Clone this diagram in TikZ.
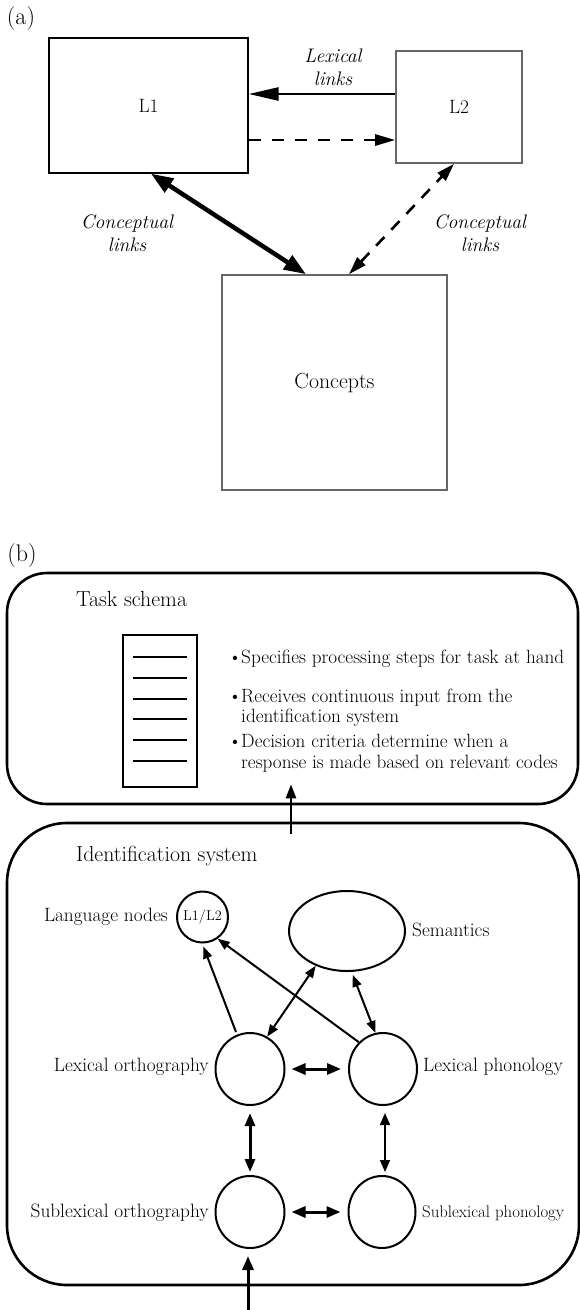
\documentclass[tikz,border=0pt]{standalone}
\usetikzlibrary{arrows.meta,shapes.geometric,calc}
\begin{document}
\begin{tikzpicture}[x=1pt,y=-1pt,
  lbl/.style={inner sep=0pt,font=\fontsize{19.3}{22}\selectfont},
  ilbl/.style={inner sep=0pt,align=center,font=\fontsize{19.6}{23}\selectfont\itshape},
  head/.style={inner sep=0pt,font=\fontsize{21.8}{25}\selectfont},
  txt/.style={inner sep=0pt,anchor=base west,font=\fontsize{19.2}{22}\selectfont},
  panel/.style={inner sep=0pt,font=\fontsize{24}{28}\selectfont},
  boxa/.style={draw=black,line width=1.3pt},
  boxg/.style={draw=black!60,line width=1.6pt},
  container/.style={draw,line width=2.6pt},
  unit/.style={draw,ellipse,line width=2pt,inner sep=0pt},
  one/.style={line width=2pt,-{Triangle[length=12pt,width=9pt]}},
  two/.style={line width=2pt,{Triangle[length=12pt,width=9pt]}-{Triangle[length=12pt,width=9pt]}},
  twobold/.style={line width=3pt,{Triangle[length=14pt,width=11pt]}-{Triangle[length=14pt,width=11pt]}},
]
\useasboundingbox (0,0) rectangle (579,1310);

% ---------------- panel (a) ----------------
\node[panel] (pa) at (21,19) {(a)};
\node[boxa,minimum width=199pt,minimum height=135pt] (L1) at (148.5,105.5) {};
\node[lbl] at (L1.center) {L1};
\node[boxg,minimum width=126pt,minimum height=112pt] (L2) at (459,107) {};
\node[lbl] at (L2.center) {L2};
\node[boxg,minimum width=225pt,minimum height=215pt] (C) at (334.5,382.5) {};
\node[lbl,font=\fontsize{21.8}{25}\selectfont] at (C.center) {Concepts};

% lexical links
\draw[line width=2.6pt,-{Triangle[length=30pt,width=13pt]}]
  ([yshift=13pt]L2.west) -- ([yshift=13pt]L2.west -| L1.east);
\draw[line width=2.6pt,dash pattern=on 12pt off 11pt,-{Triangle[length=20pt,width=11pt]}]
  ([yshift=-34.5pt]L1.east) -- ([yshift=-34.5pt]L1.east -| L2.west);
\node[ilbl] (lexlab) at (333,67) {Lexical\\links};

% conceptual links
\draw[line width=4.5pt,{Triangle[length=22pt,width=16pt]}-{Triangle[length=22pt,width=16pt]}]
  ([xshift=2.5pt]L1.south) -- ([xshift=-28.5pt]C.north);
\draw[line width=2.6pt,dash pattern=on 12pt off 10pt,{Triangle[length=18pt,width=11pt]}-{Triangle[length=18pt,width=11pt]}]
  ([xshift=14.5pt]C.north) -- ([xshift=-5pt]L2.south);
\node[ilbl] (cl1) at (127,233) {Conceptual\\links};
\node[ilbl] (cl2) at (480,233) {Conceptual\\links};

% ---------------- panel (b) ----------------
\node[panel] (pb) at (22,556) {(b)};

% task schema
\node[container,rounded corners=40pt,minimum width=571pt,minimum height=231pt] (task) at (292.5,688.5) {};
\node[head,anchor=west] (tslab) at (76,599) {Task schema};
\node[draw,line width=2.6pt,minimum width=74pt,minimum height=152pt,inner sep=0pt] (list) at (160,711) {};
\foreach \yy in {657,678,699,719,740,761}
  \draw[line width=2.2pt] (133,\yy) -- (187,\yy);
\node[txt] (b1) at (228,663) {\makebox[13pt][l]{\textbullet}Specifies processing steps for task at hand};
\node[txt] (b2) at (228,702) {\makebox[13pt][l]{\textbullet}Receives continuous input from the};
\node[txt] (b2b) at (241,722) {identification system};
\node[txt] (b3) at (228,747) {\makebox[13pt][l]{\textbullet}Decision criteria determine when a};
\node[txt] (b3b) at (241,768) {response is made based on relevant codes};

% identification system
\node[container,rounded corners=60pt,minimum width=572pt,minimum height=462pt] (ident) at (293,1054) {};
\node[head,anchor=west] (idlab) at (76,856) {Identification system};

\draw[line width=2.6pt,-{Triangle[length=14pt,width=10pt]}]
  ([xshift=-2pt,yshift=-12pt]ident.north) -- ([xshift=-1.5pt,yshift=21pt]task.south);

% units
\node[unit,minimum width=51pt,minimum height=51pt] (lang) at (202.5,917) {};
\node[inner sep=0pt,font=\fontsize{14.3}{17}\selectfont] at (lang.center) {L1/L2};
\node[unit,minimum width=116pt,minimum height=80pt] (sem) at (347,931) {};
\node[unit,minimum width=69pt,minimum height=72pt] (lo) at (250,1069) {};
\node[unit,minimum width=68pt,minimum height=72pt] (lp) at (383,1069) {};
\node[unit,minimum width=69pt,minimum height=72pt] (so) at (250,1212) {};
\node[unit,minimum width=67pt,minimum height=72pt] (sp) at (382,1212) {};

\node[lbl,anchor=base east] at (168,921) {Language nodes};
\node[lbl,anchor=base west] at (412,936) {Semantics};
\node[lbl,anchor=base east] at (209,1071) {Lexical orthography};
\node[lbl,anchor=base west] at (423,1071) {Lexical phonology};
\node[lbl,anchor=base east] at (209,1217) {Sublexical orthography};
\node[lbl,anchor=base west,font=\fontsize{16.8}{19}\selectfont] at (422,1217) {Sublexical phonology};

% connections
\draw[one] ([xshift=-14pt]lo.north) -- ([yshift=-3pt]lang.-88);
\draw[one] (lp.132) -- (lang.-55);
\draw[two] (lo.62) -- (sem.-132);
\draw[two] (lp.102) -- ([yshift=-3pt]sem.-82);
\draw[twobold,shorten <=6pt,shorten >=7pt] (lo.east) -- (lp.west);
\draw[twobold,shorten <=6pt,shorten >=7pt] (so.east) -- (sp.west);
\draw[line width=3pt,{Triangle[length=13pt,width=10pt]}-{Triangle[length=13pt,width=10pt]},shorten <=7pt,shorten >=3pt] (lo.south) -- (so.north);
\draw[line width=1.6pt,{Triangle[length=12pt,width=10pt]}-{Triangle[length=12pt,width=10pt]},shorten <=7pt,shorten >=3pt] ([xshift=2pt]lp.south) -- ([xshift=3pt]sp.north);
\coordinate (inp) at (248,1310);
\draw[line width=3pt,-{Triangle[length=14pt,width=11pt]},shorten >=7pt] (inp) -- (inp |- so.south);
\end{tikzpicture}
\end{document}
